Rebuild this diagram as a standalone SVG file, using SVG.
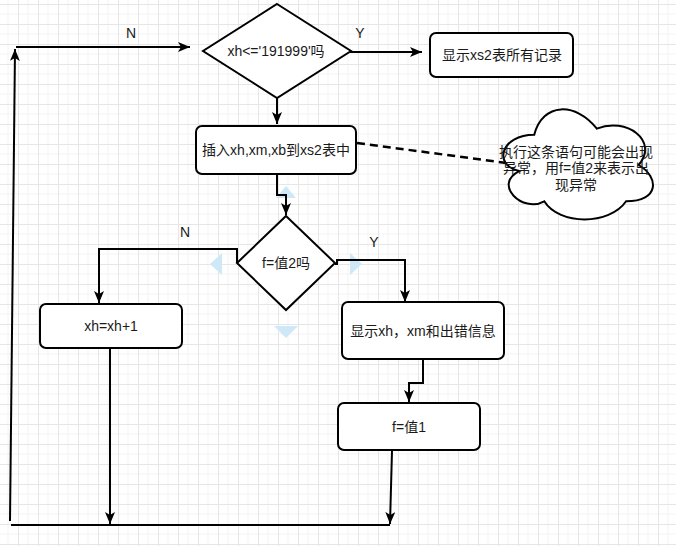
<svg xmlns="http://www.w3.org/2000/svg" width="676" height="546" viewBox="0 0 676 546">
<defs>
<style>
.node{fill:#fff;stroke:#000;stroke-width:2}
.t{font-family:"Liberation Sans","Noto Sans CJK SC",sans-serif;font-size:14px;fill:#1a1a1a;text-anchor:middle}
.c{fill:none;stroke:#000;stroke-width:2}
.hint{fill:#cfe8f7}
</style>
<pattern id="grid" width="20" height="20" patternUnits="userSpaceOnUse" x="-2" y="4">
<path d="M10 0V20M0 10H20" stroke="#f3f3f3" stroke-width="1" fill="none"/>
<path d="M0 0.5H20M0.5 0V20" stroke="#e6e6e6" stroke-width="1" fill="none"/>
</pattern>
<marker id="arr" viewBox="0 0 12 10" refX="12" refY="5" markerWidth="12" markerHeight="10" markerUnits="userSpaceOnUse" orient="auto">
<path d="M0,0 L12,5 L0,10 L3,5 Z" fill="#000"/>
</marker>
</defs>
<rect width="676" height="546" fill="#fff"/>
<rect width="676" height="546" fill="url(#grid)"/>

<g id="hints">
<polygon class="hint" points="286,186 296,198 276,198"/>
<polygon class="hint" points="210,264 222,253 222,275"/>
<polygon class="hint" points="362,264 350,253 350,275"/>
<polygon class="hint" points="286,338 274,326 298,326"/>
</g>

<g id="connectors">
<path class="c" d="M16,47 H190" marker-end="url(#arr)"/>
<path class="c" d="M10,521 L15,49" marker-end="url(#arr)"/>
<path class="c" d="M11,525 H390"/>
<path class="c" d="M350,52 H422" marker-end="url(#arr)"/>
<path class="c" d="M277,98 V124" marker-end="url(#arr)"/>
<path class="c" d="M277,174 V195 H286 V215" marker-end="url(#arr)"/>
<path class="c" d="M237,263 V249 H99 V303" marker-end="url(#arr)"/>
<path class="c" d="M335,264 H337 V260 H405 V302" marker-end="url(#arr)"/>
<path class="c" d="M423,359 V383 H409 V402" marker-end="url(#arr)"/>
<path class="c" d="M110,348 V524" marker-end="url(#arr)"/>
<path class="c" d="M392,451 L390,524" marker-end="url(#arr)"/>
<path d="M357,143 L507,163" fill="none" stroke="#000" stroke-width="2.5" stroke-dasharray="8,5"/>
<text class="t" x="131" y="38">N</text>
<text class="t" x="360" y="38">Y</text>
<text class="t" x="185" y="237">N</text>
<text class="t" x="374" y="247">Y</text>
</g>

<g id="cond1">
<polygon class="node" points="277,4 351,51 277,98 203,51"/>
<text class="t" x="276" y="56">xh&lt;='191999'吗</text>
</g>

<g id="showAll">
<rect class="node" x="430" y="33" width="143" height="44" rx="6"/>
<text class="t" x="502" y="60">显示xs2表所有记录</text>
</g>

<g id="insert">
<rect class="node" x="196" y="126" width="160" height="48" rx="6"/>
<text class="t" x="276" y="155">插入xh,xm,xb到xs2表中</text>
</g>

<g id="note">
<path class="node" d="M534.25,134.75 C500.85,134.75 492.5,165 519.22,171.05 C492.5,184.36 522.56,213.4 544.27,201.3 C559.3,225.5 609.4,225.5 626.1,201.3 C659.5,201.3 659.5,177.1 638.6,165 C659.5,140.8 626.1,116.6 596.9,128.7 C576,102 542.6,102 534.25,134.75 Z"/>
<text class="t" x="576" y="157">执行这条语句可能会出现</text>
<text class="t" x="576" y="173">异常，用f=值2来表示出</text>
<text class="t" x="576" y="190">现异常</text>
</g>

<g id="cond2">
<polygon class="node" points="286,216 335,263 286,310 237,263"/>
<text class="t" x="286" y="268">f=值2吗</text>
</g>

<g id="inc">
<rect class="node" x="40" y="304" width="142" height="44" rx="6"/>
<text class="t" x="111" y="331">xh=xh+1</text>
</g>

<g id="showErr">
<rect class="node" x="342" y="302" width="162" height="57" rx="6"/>
<text class="t" x="423" y="336">显示xh，xm和出错信息</text>
</g>

<g id="setF">
<rect class="node" x="338" y="403" width="142" height="47" rx="6"/>
<text class="t" x="409" y="432">f=值1</text>
</g>
</svg>
